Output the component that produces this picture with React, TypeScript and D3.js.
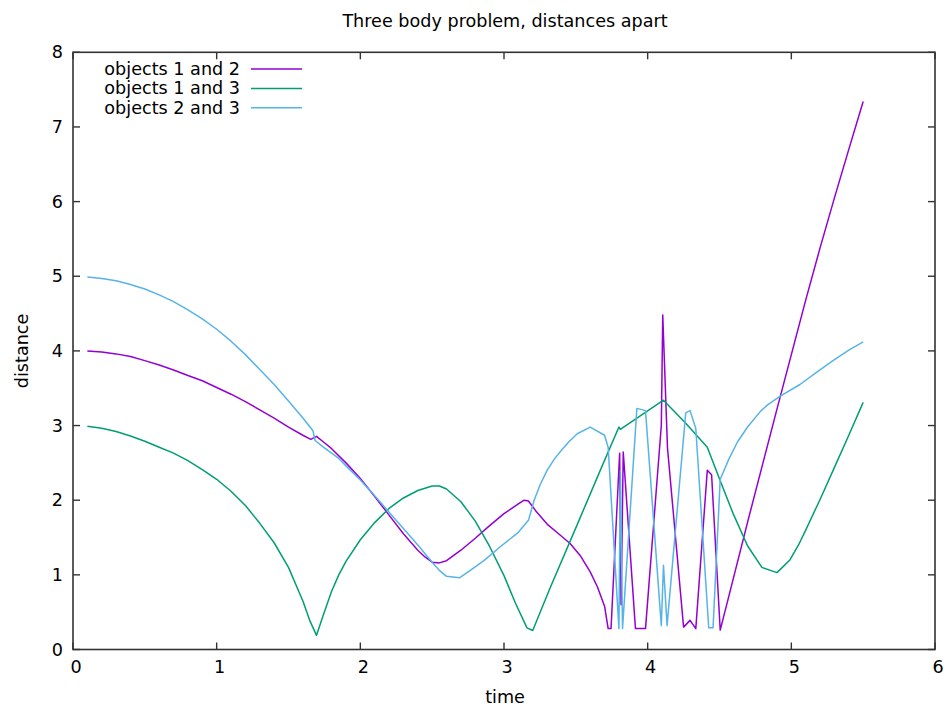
import React from "react";
import * as d3 from "d3";

const W = 947;
const H = 710;

const xTicks = [0, 1, 2, 3, 4, 5, 6];
const yTicks = [0, 1, 2, 3, 4, 5, 6, 7, 8];

const seriesNames = ["objects 1 and 2", "objects 1 and 3", "objects 2 and 3"];
const seriesColors = ["#9400d3", "#009e73", "#56b4e9"];

// objects 1 and 2 : [time, distance]
const d12: [number, number][] = [
  [0.1, 4.0], [0.2, 3.985], [0.3, 3.96], [0.4, 3.925], [0.5, 3.87], [0.6, 3.81],
  [0.7, 3.745], [0.8, 3.67], [0.9, 3.6], [1.0, 3.51], [1.1, 3.42], [1.2, 3.32],
  [1.3, 3.21], [1.4, 3.1], [1.5, 2.98], [1.6, 2.87], [1.655, 2.815], [1.695, 2.855],
  [1.75, 2.77], [1.8, 2.69], [1.9, 2.5], [2.0, 2.29], [2.1, 2.05], [2.2, 1.8],
  [2.3, 1.55], [2.4, 1.33], [2.45, 1.24], [2.5, 1.17], [2.55, 1.16], [2.6, 1.19],
  [2.7, 1.33], [2.8, 1.49], [2.9, 1.66], [3.0, 1.82], [3.1, 1.95], [3.14, 2.0],
  [3.17, 1.99], [3.22, 1.86], [3.3, 1.68], [3.38, 1.55], [3.46, 1.42], [3.53, 1.26],
  [3.6, 1.04], [3.65, 0.84], [3.7, 0.58], [3.725, 0.28], [3.745, 0.28], [3.805, 2.63],
  [3.815, 0.6], [3.83, 2.645], [3.915, 0.28], [3.985, 0.28], [4.095, 3.0], [4.105, 4.48],
  [4.138, 2.7], [4.25, 0.3], [4.295, 0.39], [4.335, 0.28], [4.415, 2.4], [4.445, 2.34],
  [4.505, 0.26], [4.6, 0.98], [4.7, 1.74], [4.8, 2.48], [4.9, 3.22], [5.0, 3.95],
  [5.1, 4.68], [5.2, 5.38], [5.3, 6.05], [5.4, 6.7], [5.5, 7.34],
];

// objects 1 and 3
const d13: [number, number][] = [
  [0.1, 2.99], [0.2, 2.965], [0.3, 2.92], [0.4, 2.86], [0.5, 2.79], [0.6, 2.71],
  [0.7, 2.63], [0.8, 2.53], [0.9, 2.41], [1.0, 2.28], [1.1, 2.12], [1.2, 1.93],
  [1.3, 1.69], [1.4, 1.43], [1.5, 1.1], [1.6, 0.65], [1.65, 0.38], [1.695, 0.19],
  [1.74, 0.45], [1.8, 0.78], [1.85, 1.0], [1.9, 1.18], [2.0, 1.47], [2.1, 1.7],
  [2.2, 1.89], [2.3, 2.03], [2.4, 2.13], [2.5, 2.19], [2.55, 2.19], [2.6, 2.15],
  [2.7, 1.98], [2.8, 1.72], [2.9, 1.38], [3.0, 0.99], [3.08, 0.62], [3.16, 0.29],
  [3.2, 0.255], [3.32, 0.82], [3.52, 1.72], [3.67, 2.4], [3.8, 2.98], [3.81, 2.95],
  [3.825, 2.97], [4.11, 3.34], [4.265, 3.03], [4.415, 2.71], [4.505, 2.26], [4.595, 1.82],
  [4.695, 1.39], [4.795, 1.1], [4.9, 1.03], [4.99, 1.2], [5.05, 1.4], [5.1, 1.6],
  [5.2, 2.01], [5.3, 2.44], [5.4, 2.87], [5.5, 3.31],
];

// objects 2 and 3
const d23: [number, number][] = [
  [0.1, 4.99], [0.2, 4.97], [0.3, 4.94], [0.4, 4.89], [0.5, 4.83], [0.6, 4.75],
  [0.7, 4.66], [0.8, 4.55], [0.9, 4.43], [1.0, 4.29], [1.1, 4.13], [1.2, 3.95],
  [1.3, 3.75], [1.4, 3.55], [1.5, 3.33], [1.6, 3.1], [1.65, 2.98], [1.67, 2.93],
  [1.685, 2.8], [1.75, 2.7], [1.8, 2.63], [1.85, 2.56], [1.9, 2.46], [2.0, 2.27],
  [2.1, 2.06], [2.2, 1.84], [2.3, 1.62], [2.4, 1.4], [2.5, 1.17], [2.55, 1.06],
  [2.6, 0.98], [2.69, 0.96], [2.78, 1.08], [2.86, 1.19], [2.97, 1.37], [3.1, 1.57],
  [3.17, 1.73], [3.21, 2.0], [3.25, 2.2], [3.3, 2.4], [3.35, 2.55], [3.4, 2.67],
  [3.45, 2.78], [3.51, 2.89], [3.6, 2.98], [3.7, 2.87], [3.725, 2.71], [3.8, 0.28],
  [3.81, 2.4], [3.825, 0.28], [3.925, 3.23], [3.985, 3.2], [4.095, 0.32], [4.11, 1.13],
  [4.135, 0.32], [4.265, 3.17], [4.295, 3.2], [4.335, 2.96], [4.425, 0.29], [4.455, 0.29],
  [4.505, 2.28], [4.565, 2.55], [4.625, 2.78], [4.695, 2.98], [4.785, 3.19], [4.83, 3.27],
  [4.92, 3.39], [5.06, 3.55], [5.18, 3.72], [5.29, 3.87], [5.4, 4.01], [5.5, 4.12],
];

const allSeries = [d12, d13, d23];

const M = { left: 73, right: 935, top: 52.3, bottom: 649.5 };
const FONT = "'DejaVu Sans', sans-serif";
const FS = 17.6;

export default function App() {
  const x = d3.scaleLinear().domain([0, 6]).range([M.left, M.right]);
  const y = d3.scaleLinear().domain([0, 8]).range([M.bottom, M.top]);
  const line = d3
    .line<[number, number]>()
    .x((d) => x(d[0]))
    .y((d) => y(d[1]));
  const tickLen = 7;
  const axisColor = "#333";

  return (
    <svg
      width={W}
      height={H}
      style={{ position: "fixed", left: 0, top: 0, background: "#fff" }}
      fontFamily={FONT}
    >
      <rect x={0} y={0} width={W} height={H} fill="#fff" />
      <text x={505} y={27} textAnchor="middle" fontSize={FS} fill="#000">
        Three body problem, distances apart
      </text>

      {allSeries.map((s, i) => (
        <path
          key={i}
          d={line(s) || ""}
          fill="none"
          stroke={seriesColors[i]}
          strokeWidth={1.5}
          strokeLinejoin="round"
        />
      ))}

      <rect
        x={M.left}
        y={M.top}
        width={M.right - M.left}
        height={M.bottom - M.top}
        fill="none"
        stroke={axisColor}
        strokeWidth={1.6}
      />

      {xTicks.map((t) => (
        <g key={"x" + t}>
          <line x1={x(t)} x2={x(t)} y1={M.bottom} y2={M.bottom - tickLen} stroke={axisColor} strokeWidth={1.4} />
          <line x1={x(t)} x2={x(t)} y1={M.top} y2={M.top + tickLen} stroke={axisColor} strokeWidth={1.4} />
          <text x={x(t) + 3} y={673} textAnchor="middle" fontSize={FS} fill="#000">
            {t}
          </text>
        </g>
      ))}

      {yTicks.map((t) => (
        <g key={"y" + t}>
          <line x1={M.left} x2={M.left + tickLen} y1={y(t)} y2={y(t)} stroke={axisColor} strokeWidth={1.4} />
          <line x1={M.right} x2={M.right - tickLen} y1={y(t)} y2={y(t)} stroke={axisColor} strokeWidth={1.4} />
          <text x={63} y={y(t) + 6} textAnchor="end" fontSize={FS} fill="#000">
            {t}
          </text>
        </g>
      ))}

      <text x={505} y={703} textAnchor="middle" fontSize={FS} fill="#000">
        time
      </text>
      <text
        transform={`translate(28, ${(M.top + M.bottom) / 2}) rotate(-90)`}
        textAnchor="middle"
        fontSize={FS}
        fill="#000"
      >
        distance
      </text>

      {seriesNames.map((n, i) => {
        const cy = 69 + i * 19.4;
        return (
          <g key={n}>
            <text x={240} y={cy + 6} textAnchor="end" fontSize={FS} fill="#000">
              {n}
            </text>
            <line x1={251} x2={302} y1={cy} y2={cy} stroke={seriesColors[i]} strokeWidth={1.5} />
          </g>
        );
      })}
    </svg>
  );
}
